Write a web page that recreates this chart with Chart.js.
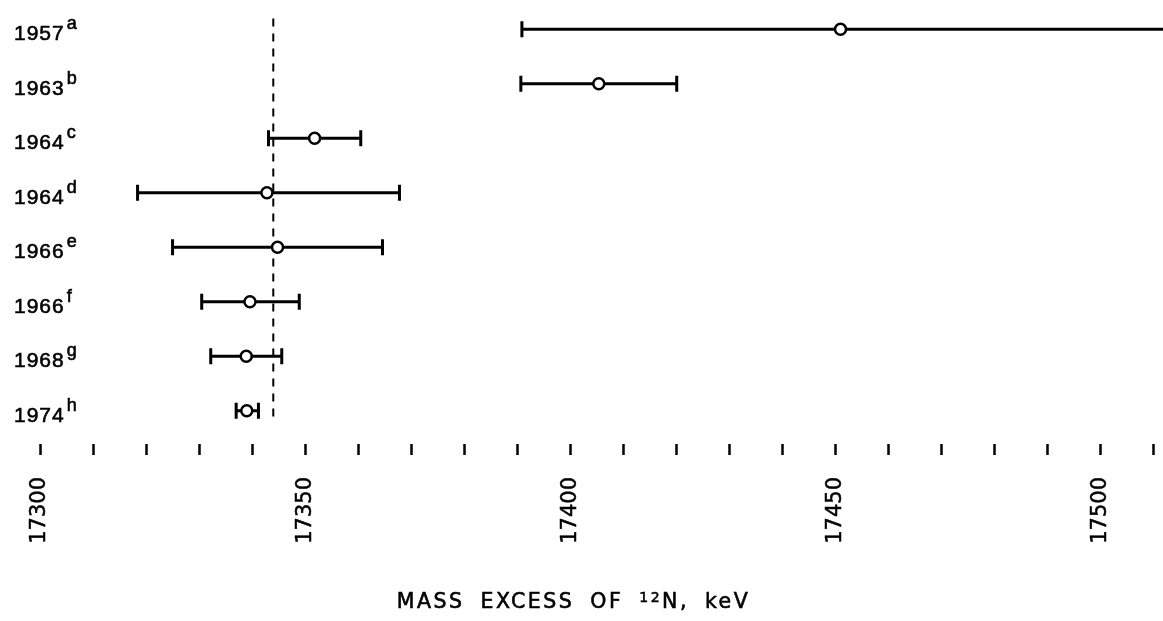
<!DOCTYPE html>
<html>
<head>
<meta charset="utf-8">
<script src="https://cdn.jsdelivr.net/npm/chart.js@4/dist/chart.umd.min.js"></script>
<style>
  html, body { margin: 0; padding: 0; background: #fff; }
  #wrap { width: 1163px; height: 621px; }
</style>
</head>
<body>
<div id="wrap"><canvas id="chart" width="1163" height="621"></canvas></div>
<script>
// Measurements of the 12N mass excess (keV), top to bottom
const years = ['1957', '1963', '1964', '1964', '1966', '1966', '1968', '1974'];
const refs = ['a', 'b', 'c', 'd', 'e', 'f', 'g', 'h'];
const values = [17451.0, 17405.4, 17351.8, 17342.8, 17344.8, 17339.6, 17338.9, 17339.0];
const lowerBounds = [17390.9, 17390.7, 17343.1, 17318.4, 17325.0, 17330.5, 17332.2, 17337.0];
const upperBounds = [17515.0, 17420.1, 17360.5, 17367.8, 17364.6, 17348.9, 17345.6, 17341.2];

// Dashed reference line
const refValue = 17344.0;
const refSpan = [-0.2, 7.15];

// Axis ticks
const tickValues = [17300, 17310, 17320, 17330, 17340, 17350, 17360, 17370, 17380, 17390,
    17400, 17410, 17420, 17430, 17440, 17450, 17460, 17470, 17480, 17490, 17500, 17510];
const tickLabels = [17300, 17350, 17400, 17450, 17500];

// Axis title, split around the superscript mass number
const titleStart = 'MASS EXCESS OF ';
const titleSup = '12';
const titleEnd = 'N, keV';

const LABEL_FONT = "'Liberation Sans', Arial, sans-serif";
const AXIS_FONT = "'DejaVu Sans', sans-serif";
Chart.defaults.font.family = LABEL_FONT;
Chart.defaults.color = '#000';

// Horizontal error bars with end caps, drawn under the points
const errorBars = {
    id: 'errorBars',
    beforeDatasetsDraw(chart) {
        const { ctx, chartArea, scales: { x, y } } = chart;
        ctx.save();
        ctx.beginPath();
        ctx.rect(chartArea.left, chartArea.top, chartArea.right - chartArea.left, chartArea.bottom - chartArea.top);
        ctx.clip();
        ctx.strokeStyle = '#000';
        ctx.lineWidth = 3;
        for (let i = 0; i < values.length; i++) {
            const py = y.getPixelForValue(i);
            const x0 = x.getPixelForValue(lowerBounds[i]);
            const x1 = x.getPixelForValue(upperBounds[i]);
            ctx.beginPath();
            ctx.moveTo(x0, py);
            ctx.lineTo(x1, py);
            ctx.moveTo(x0, py - 8);
            ctx.lineTo(x0, py + 8);
            ctx.moveTo(x1, py - 8);
            ctx.lineTo(x1, py + 8);
            ctx.stroke();
        }
        ctx.restore();
    }
};

function heavyText(ctx, text, px, py) {
    ctx.fillText(text, px, py);
    ctx.strokeText(text, px, py);
}

// Row labels (year + superscript letter) and the axis title
const labels = {
    id: 'labels',
    afterDraw(chart) {
        const { ctx, chartArea, scales: { y } } = chart;
        ctx.save();
        ctx.fillStyle = '#000';
        ctx.strokeStyle = '#000';
        ctx.lineWidth = 0.6;
        ctx.textAlign = 'left';
        ctx.textBaseline = 'alphabetic';
        ctx.letterSpacing = '1px';
        for (let i = 0; i < years.length; i++) {
            const py = y.getPixelForValue(i);
            ctx.font = '21px ' + LABEL_FONT;
            heavyText(ctx, years[i], 14, py + 11);
            const w = ctx.measureText(years[i]).width;
            ctx.font = '18px ' + LABEL_FONT;
            heavyText(ctx, refs[i], 14 + w + 2, py);
        }

        // title
        ctx.letterSpacing = '2.5px';
        ctx.wordSpacing = '7px';
        const mainFont = '20.5px ' + AXIS_FONT;
        const supFont = '14px ' + AXIS_FONT;
        ctx.font = mainFont;
        const w1 = ctx.measureText(titleStart).width;
        const w3 = ctx.measureText(titleEnd).width;
        ctx.font = supFont;
        const w2 = ctx.measureText(titleSup).width;
        const cx = (chartArea.left + chartArea.right) / 2 - 8;
        const base = chart.height - 13;
        let tx = cx - (w1 + w2 + w3) / 2;
        ctx.font = mainFont;
        heavyText(ctx, titleStart, tx, base);
        tx += w1;
        ctx.font = supFont;
        heavyText(ctx, titleSup, tx, base - 6);
        tx += w2;
        ctx.font = mainFont;
        heavyText(ctx, titleEnd, tx, base);
        ctx.restore();
    }
};

new Chart(document.getElementById('chart'), {
    type: 'scatter',
    data: {
        datasets: [{
            data: values.map((v, i) => ({ x: v, y: i })),
            pointRadius: 5.5,
            pointBorderWidth: 2.5,
            pointBackgroundColor: '#fff',
            pointBorderColor: '#000',
            order: 1
        }, {
            type: 'line',
            data: refSpan.map(s => ({ x: refValue, y: s })),
            borderColor: '#000',
            borderWidth: 2,
            borderDash: [8, 7],
            pointRadius: 0,
            order: 2
        }]
    },
    options: {
        responsive: false,
        animation: false,
        devicePixelRatio: 1,
        layout: { padding: 0, autoPadding: false },
        plugins: {
            legend: { display: false },
            tooltip: { enabled: false }
        },
        scales: {
            x: {
                type: 'linear',
                min: 17292.45,
                max: 17511.83,
                afterBuildTicks: scale => {
                    scale.ticks = tickValues.map(v => ({ value: v }));
                },
                afterFit: scale => {
                    // fixed axis band, no edge padding
                    scale.height = 177;
                    scale.paddingLeft = 0;
                    scale.paddingRight = 0;
                },
                border: { display: false },
                grid: {
                    display: true,
                    drawOnChartArea: false,
                    drawTicks: true,
                    tickLength: 11,
                    tickWidth: 2.5,
                    tickColor: '#000'
                },
                ticks: {
                    autoSkip: false,
                    minRotation: 90,
                    maxRotation: 90,
                    padding: 22,
                    color: '#000',
                    textStrokeColor: '#000',
                    textStrokeWidth: 0.5,
                    font: { family: AXIS_FONT, size: 21 },
                    callback: v => tickLabels.includes(v) ? String(v) : ''
                }
            },
            y: {
                type: 'linear',
                display: false,
                reverse: true,
                min: -0.538,
                max: 7.61
            }
        }
    },
    plugins: [errorBars, labels]
});
</script>
</body>
</html>
